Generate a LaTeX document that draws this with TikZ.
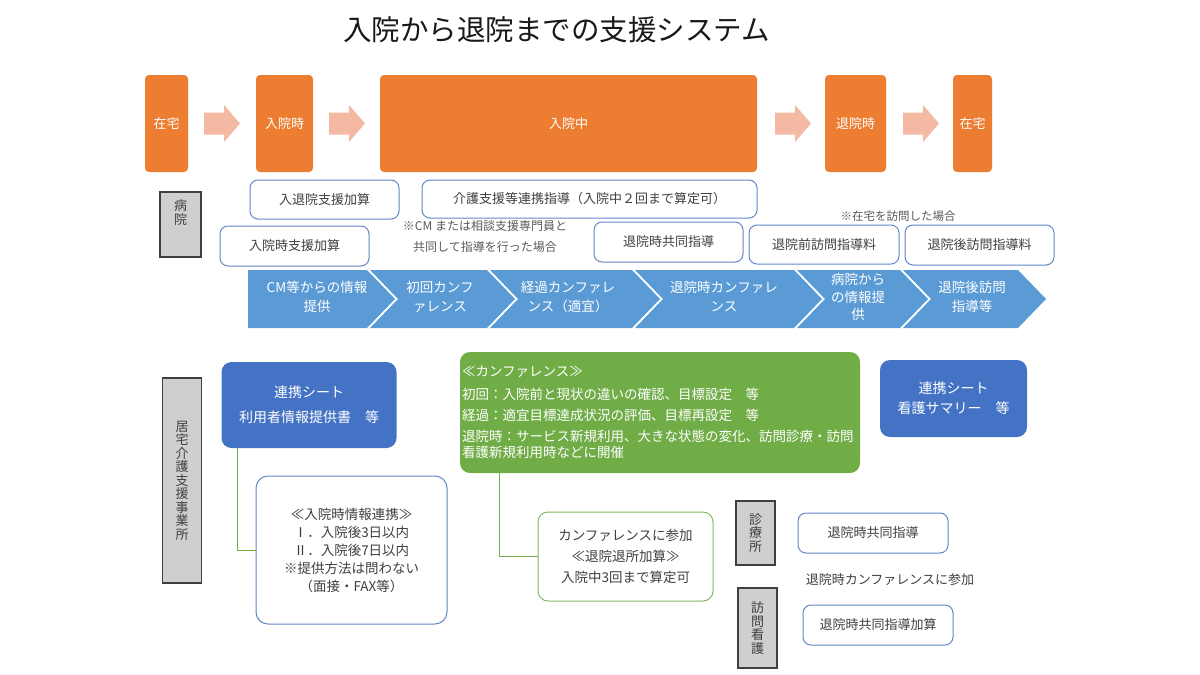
\documentclass[tikz,border=0pt]{standalone}
\usepackage{fontspec}
\setmainfont{Noto Sans CJK JP}
\usetikzlibrary{positioning}
\definecolor{stageorange}{HTML}{ED7D31}
\definecolor{flowpink}{HTML}{F4B9A3}
\definecolor{chevblue}{HTML}{5B9BD5}
\definecolor{sheetblue}{HTML}{4472C4}
\definecolor{feeline}{HTML}{6387C8}
\definecolor{confgreen}{HTML}{70AD47}
\definecolor{taggray}{HTML}{D0CECE}
\definecolor{inkgray}{HTML}{404040}
\definecolor{notegray}{HTML}{595959}

\begin{document}
\begin{tikzpicture}[x=1pt,y=-1pt]
        \tikzstyle{every node}+=[inner sep=0pt]
        \tikzstyle{stage}=[fill=stageorange, rounded corners=4pt, text=white, minimum height=97pt, font=\fontsize{13}{16}\selectfont]
        \tikzstyle{fee}=[draw=feeline, line width=1pt, rounded corners=8pt, fill=white, text=inkgray, font=\fontsize{13}{16}\selectfont]
        \tikzstyle{note}=[text=notegray, font=\fontsize{12}{20.5}\selectfont]
        \tikzstyle{phase}=[text=white, align=center, font=\fontsize{13.5}{19}\selectfont]
        \tikzstyle{tag}=[fill=taggray, draw=inkgray, line width=1.3pt, text=inkgray, align=center, font=\fontsize{13}{13.5}\selectfont]
        \tikzstyle{sheet}=[fill=sheetblue, rounded corners=10pt, text=white, align=center, font=\fontsize{14}{25}\selectfont]
        \tikzstyle{greenbox}=[draw=confgreen!85, line width=1pt, rounded corners=10pt, fill=white, text=inkgray, align=center, font=\fontsize{13.5}{21}\selectfont]
        \tikzstyle{link}=[draw=confgreen, line width=1pt]
        \useasboundingbox (0,0) rectangle (1200,675);
        \node[text=black!90, font=\fontsize{28.5}{32}\selectfont] (title) at (556.5,30) {入院から退院までの支援システム};
        \node[stage, minimum width=43pt] (home) at (166.5,123.5) {在宅};
        \node[stage, minimum width=57pt] (admit) at (284.5,123.5) {入院時};
        \node[stage, minimum width=377pt] (stay) at (568.5,123.5) {入院中};
        \node[stage, minimum width=61pt] (leave) at (855.5,123.5) {退院時};
        \node[stage, minimum width=39pt] (back) at (972.5,123.5) {在宅};
        \fill[flowpink] (204,112.5) -- (224,112.5) -- (224,105) -- (240,123.5) -- (224,142) -- (224,134.5) -- (204,134.5) -- cycle;
        \fill[flowpink] (329,112.5) -- (349,112.5) -- (349,105) -- (365,123.5) -- (349,142) -- (349,134.5) -- (329,134.5) -- cycle;
        \fill[flowpink] (775,112.5) -- (795,112.5) -- (795,105) -- (811,123.5) -- (795,142) -- (795,134.5) -- (775,134.5) -- cycle;
        \fill[flowpink] (903,112.5) -- (923,112.5) -- (923,105) -- (939,123.5) -- (923,142) -- (923,134.5) -- (903,134.5) -- cycle;
        \node[tag, minimum width=41pt, minimum height=65pt] (hospital) at (180.5,224.5) {};
        \node[text=inkgray, align=center, font=\fontsize{13}{14}\selectfont] (hospitalname) at (180.5,213) {病\\院};
        \node[fee, minimum width=149pt, minimum height=39pt] (nyutaiin) at (324.5,199.5) {入退院支援加算};
        \node[fee, minimum width=335pt, minimum height=38pt] (kaigo) at (589.5,199) {介護支援等連携指導（入院中２回まで算定可）};
        \node[fee, minimum width=149pt, minimum height=40pt] (nyuinji) at (294.5,246) {入院時支援加算};
        \node[note, align=center] (cmnote) at (485,236.5) {※CM または相談支援専門員と\\共同して指導を行った場合};
        \node[fee, minimum width=149pt, minimum height=40pt] (kyodo) at (668.5,242) {退院時共同指導};
        \node[note, font=\fontsize{11.5}{14}\selectfont] (homenote) at (898,216) {※在宅を訪問した場合};
        \node[fee, minimum width=150pt, minimum height=39pt] (zenhoumon) at (824,244.5) {退院前訪問指導料};
        \node[fee, minimum width=149pt, minimum height=40pt] (gohoumon) at (979.5,245) {退院後訪問指導料};
        \fill[chevblue] (248,270) -- (367,270) -- (395,299) -- (367,328) -- (248,328) -- cycle;
        \fill[chevblue] (370,270) -- (487,270) -- (515,299) -- (487,328) -- (370,328) -- (398,299) -- cycle;
        \fill[chevblue] (490,270) -- (632,270) -- (660,299) -- (632,328) -- (490,328) -- (518,299) -- cycle;
        \fill[chevblue] (635,270) -- (794,270) -- (822,299) -- (794,328) -- (635,328) -- (663,299) -- cycle;
        \fill[chevblue] (797,270) -- (900,270) -- (928,299) -- (900,328) -- (797,328) -- (825,299) -- cycle;
        \fill[chevblue] (903,270) -- (1018,270) -- (1046,299) -- (1018,328) -- (903,328) -- (931,299) -- cycle;
        \node[phase] (phaseone) at (317,297) {CM等からの情報\\提供};
        \node[phase] (phasetwo) at (440,297) {初回カンフ\\ァレンス};
        \node[phase] (phasethree) at (568,297) {経過カンファレ\\ンス（適宜）};
        \node[phase] (phasefour) at (724,297) {退院時カンファレ\\ンス};
        \node[phase, font=\fontsize{13.5}{17.5}\selectfont] (phasefive) at (858,297) {病院から\\の情報提\\供};
        \node[phase] (phasesix) at (972,297) {退院後訪問\\指導等};
        \node[tag, minimum width=39pt, minimum height=205pt] (office) at (182,480.5) {居\\宅\\介\\護\\支\\援\\事\\業\\所};
        \node[sheet, minimum width=175pt, minimum height=86pt] (usersheet) at (309,405) {連携シート\\利用者情報提供書　等};
        \node[fee, minimum width=191pt, minimum height=148pt, rounded corners=12pt, align=center, font=\fontsize{13.5}{18}\selectfont] (admitinfo) at (351.5,550) {≪入院時情報連携≫\\Ⅰ．入院後3日以内\\Ⅱ．入院後7日以内\\※提供方法は問わない\\（面接・FAX等）};
        \draw[link] ([xshift=16.5pt]usersheet.south west) |- (admitinfo.west);
        \node[fill=confgreen, rounded corners=10pt, minimum width=400pt, minimum height=121pt, text width=396pt, align=left, text=white, font=\fontsize{13.5}{16.5}\selectfont] (conference) at (660,412.5) {≪カンファレンス≫\\[6.5pt]初回：入院前と現状の違いの確認、目標設定　等\\[4.5pt]経過：適宜目標達成状況の評価、目標再設定　等\\[4.5pt]退院時：サービス新規利用、大きな状態の変化、訪問診療・訪問\\看護新規利用時などに開催};
        \node[greenbox, minimum width=175pt, minimum height=89pt] (attend) at (625.5,556.5) {カンファレンスに参加\\≪退院退所加算≫\\入院中3回まで算定可};
        \draw[link] ([xshift=40pt]conference.south west) |- (attend.west);
        \node[sheet, minimum width=147pt, minimum height=77pt, font=\fontsize{14}{20}\selectfont] (nursesheet) at (953.5,398.5) {連携シート\\看護サマリー　等};
        \node[tag, minimum width=39pt, minimum height=64pt] (clinic) at (755.5,533) {診\\療\\所};
        \node[fee, minimum width=150pt, minimum height=40pt] (clinicfee) at (873,533) {退院時共同指導};
        \node[text=inkgray, font=\fontsize{13}{16}\selectfont] (clinicnote) at (890,580) {退院時カンファレンスに参加};
        \node[tag, minimum width=39pt, minimum height=80pt] (visitnurse) at (757.5,628) {訪\\問\\看\\護};
        \node[fee, minimum width=150pt, minimum height=40pt] (nursefee) at (878,625) {退院時共同指導加算};
\end{tikzpicture}
\end{document}
